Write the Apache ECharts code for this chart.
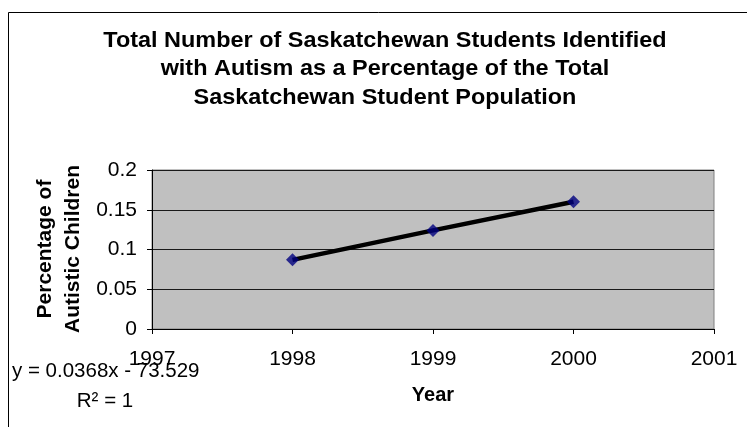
<!DOCTYPE html>
<html>
<head>
<meta charset="utf-8">
<script src="https://cdn.jsdelivr.net/npm/echarts@6/dist/echarts.min.js"></script>
<style>
html,body{margin:0;padding:0;background:#fff;}
#chart{width:747px;height:427px;}
</style>
</head>
<body>
<div id="chart"></div>
<script>
// Data
const years = [1998, 1999, 2000];
const percentValues = [0.087, 0.124, 0.160];
const titleLines = [
  'Total Number of Saskatchewan Students Identified',
  'with Autism as a Percentage of the Total',
  'Saskatchewan Student Population'
];
const yAxisNameLines = ['Percentage of', 'Autistic Children'];
const xAxisName = 'Year';
const equationText = 'y = 0.0368x - 73.529';
const r2Text = 'R\u00B2 = 1';
const xMin = 1997, xMax = 2001, xInterval = 1;
const yMin = 0, yMax = 0.2, yInterval = 0.05;

const FONT = '"Liberation Sans", Arial, sans-serif';
const chart = echarts.init(document.getElementById('chart'), null, {renderer: 'canvas'});
const points = years.map((y, i) => [y, percentValues[i]]);

chart.setOption({
  animation: false,
  backgroundColor: '#ffffff',
  grid: {
    left: 152, top: 170, right: 33, bottom: 98,
    show: true, backgroundColor: '#C0C0C0', borderColor: '#808080', borderWidth: 1
  },
  xAxis: {
    type: 'value', min: xMin, max: xMax, interval: xInterval,
    axisLine: {show: true, onZero: false, lineStyle: {color: '#000', width: 1}},
    axisTick: {show: true, length: 5, lineStyle: {color: '#000'}},
    axisLabel: {color: '#000', fontSize: 21, fontFamily: FONT, margin: 20,
      formatter: v => String(v)},
    splitLine: {show: false},
    name: xAxisName, nameLocation: 'middle', nameGap: 56,
    nameTextStyle: {color: '#000', fontSize: 20, fontWeight: 'bold', fontFamily: FONT}
  },
  yAxis: {
    type: 'value', min: yMin, max: yMax, interval: yInterval,
    axisLine: {show: true, lineStyle: {color: '#000', width: 1}},
    axisTick: {show: true, length: 5, lineStyle: {color: '#000'}},
    axisLabel: {color: '#000', fontSize: 21, fontFamily: FONT, margin: 15,
      formatter: v => String(parseFloat(v.toFixed(2)))},
    splitLine: {show: true, lineStyle: {color: '#1a1a1a', width: 1}}
  },
  series: [
    {
      type: 'line', data: points, symbol: 'none',
      lineStyle: {color: '#000', width: 4.5}, z: 2
    },
    {
      type: 'scatter', data: points, symbol: 'diamond', symbolSize: 13,
      itemStyle: {color: '#000080'}, z: 3
    }
  ],
  graphic: [
    {type: 'rect', shape: {x: 8.5, y: 12.5, width: 800, height: 500}, silent: true,
      style: {fill: 'none', stroke: '#000', lineWidth: 1}, z: -10},
    {type: 'text', x: 385, y: 69, scaleX: 1.065, silent: true,
      style: {text: titleLines.join('\n'), font: 'bold 22px ' + FONT, fill: '#000',
        textAlign: 'center', textVerticalAlign: 'middle', lineHeight: 28.5}},
    {type: 'text', x: 59, y: 249, rotation: Math.PI / 2, silent: true,
      style: {text: yAxisNameLines.join('\n'), font: 'bold 21px ' + FONT, fill: '#000',
        textAlign: 'center', textVerticalAlign: 'middle', lineHeight: 28}},
    {type: 'text', x: 12, y: 371, silent: true, z: 10,
      style: {text: equationText, font: '20.5px ' + FONT, fill: '#000',
        textAlign: 'left', textVerticalAlign: 'middle'}},
    {type: 'text', x: 105, y: 401, silent: true, z: 10,
      style: {text: r2Text, font: '20.5px ' + FONT, fill: '#000',
        textAlign: 'center', textVerticalAlign: 'middle'}}
  ]
});
</script>
</body>
</html>
